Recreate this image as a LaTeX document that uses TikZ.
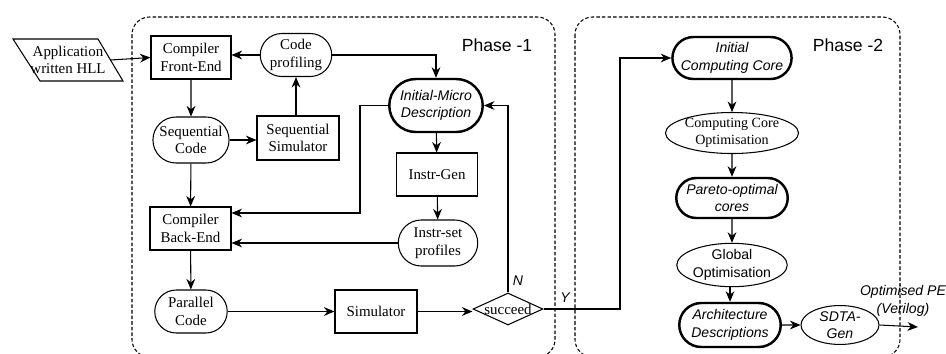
\documentclass[tikz,border=0pt]{standalone}
\usepackage{fontspec}
\setmainfont{Liberation Serif}
\setsansfont{Liberation Sans}
\usetikzlibrary{shapes.misc,shapes.geometric,arrows.meta}
\begin{document}
\begin{tikzpicture}[x=0.02cm,y=-0.02cm,
 base/.style={draw,line width=0.6pt,align=center,font=\fontsize{8.5}{10}\selectfont,inner sep=1pt},
 rect/.style={base,rectangle},
 pill/.style={base,rounded rectangle},
 tpill/.style={pill,line width=1.4pt,font=\fontsize{8}{10}\sffamily\itshape},
 ell/.style={base,ellipse},
 sansell/.style={ell,font=\fontsize{8}{10}\sffamily},
 arr/.style={-{Stealth[length=6pt,width=5pt]},line width=0.6pt},
 phase/.style={draw,dash pattern=on 2pt off 1.2pt,line width=0.6pt,rounded corners=0.35cm},
 lbl/.style={font=\fontsize{8}{10}\sffamily\itshape,inner sep=0pt},
 ptitle/.style={font=\fontsize{10}{12}\sffamily,inner sep=0pt},
]
\useasboundingbox (0,0) rectangle (946,353);
% phase boxes
\draw[phase] (132,17) rectangle (555,357);
\draw[phase] (575,17) rectangle (900,357);
\node[ptitle] (ph1) at (497,45) {Phase -1};
\node[ptitle] (ph2) at (848,45) {Phase -2};

% application parallelogram
\draw[line width=0.6pt] (13,39) -- (98,39) -- (123,81) -- (40,81) -- cycle;
\node[font=\fontsize{8.5}{10}\selectfont,align=center,inner sep=0pt,minimum width=1.68cm] (app) at (68,60) {Application\\written HLL};

\node[rect,minimum width=1.6cm,minimum height=0.86cm] (fe) at (191,57.5) {Compiler\\Front-End};
\node[pill,minimum width=1.5cm,minimum height=0.86cm] (prof) at (296,55) {Code\\profiling};
\node[pill,minimum width=1.52cm,minimum height=0.92cm] (seq) at (191,140) {Sequential\\Code};
\node[rect,minimum width=1.64cm,minimum height=0.88cm] (ssim) at (298,138) {Sequential\\Simulator};
\node[tpill,minimum width=1.94cm,minimum height=1.06cm] (imd) at (436,105.5) {Initial-Micro\\Description};
\node[rect,minimum width=1.62cm,minimum height=0.86cm] (ig) at (437,174.5) {Instr-Gen};
\node[pill,minimum width=1.66cm,minimum height=0.92cm] (isp) at (438,243) {Instr-set\\profiles};
\node[rect,minimum width=1.62cm,minimum height=0.86cm] (be) at (190.5,228.5) {Compiler\\Back-End};
\node[pill,minimum width=1.52cm,minimum height=0.86cm] (par) at (191,311.5) {Parallel\\Code};
\node[rect,minimum width=1.64cm,minimum height=0.86cm] (sim) at (376,311.5) {Simulator};
\node[base,diamond,aspect=2.2,inner sep=0pt,minimum width=1.4cm,minimum height=0.64cm] (suc) at (508,309) {\makebox[0pt]{succeed}};
\node[lbl] (nl) at (518,281) {N};
\node[lbl] (yl) at (565,298) {Y};

\node[tpill,minimum width=2.3cm,minimum height=0.84cm] (icc) at (732,58) {Initial\\Computing Core};
\node[ell,font=\fontsize{8}{9.5}\selectfont,minimum width=2.46cm,minimum height=0.8cm,inner sep=0pt] (cco) at (732,133) {Computing Core\\Optimisation};
\node[tpill,minimum width=2.3cm,minimum height=0.8cm] (poc) at (732,198) {Pareto-optimal\\cores};
\node[sansell,minimum width=2.1cm,minimum height=0.8cm,inner sep=0pt] (go) at (732,265) {Global\\Optimisation};
\node[tpill,minimum width=2.1cm,minimum height=0.88cm] (arch) at (730,325) {Architecture\\Descriptions};
\node[sansell,font=\fontsize{8}{10}\sffamily\itshape,minimum width=1.56cm,minimum height=0.72cm,inner sep=0pt] (sdta) at (840,325) {SDTA-\\Gen};
\coordinate (outend) at (918,327);
\node[lbl,align=center] (outl) at (903,301) {Optimised PE\\(Verilog)};

% connectors
\draw[arr] (app.east) -- (fe.west);
\draw[arr] (prof.west) -- (prof.west -| fe.east);
\draw[arr] (fe) -- (seq);
\draw[arr] (seq.east) -- (seq.east -| ssim.west);
\draw[arr] (ssim.north -| prof.south) -- (prof.south);
\draw[arr] (prof.east) -| (imd.north);
\draw[arr] (imd) -- (ig);
\draw[arr] (ig) -- (isp);
\draw[arr] (imd.west) -| (360,213) -- (be.east |- 0,213);
\draw[arr] (isp.west) -- (isp.west -| be.east);
\draw[arr] (seq) -- (be);
\draw[arr] (be) -- (par);
\draw[arr] (par.east) -- (par.east -| sim.west);
\draw[arr] (sim.east) -- (sim.east -| suc.west);
\draw[arr] (suc.north) |- (imd.east);
\draw[arr] (suc.east) -| (620,58) -- (icc.west);
\draw[arr] (icc) -- (cco);
\draw[arr] (cco) -- (poc);
\draw[arr] (poc) -- (go);
\draw[arr] (go.south -| 730,0) -- (arch.north);
\draw[arr] (arch) -- (sdta);
\draw[arr] (sdta.east) -- (outend);
\end{tikzpicture}
\end{document}
